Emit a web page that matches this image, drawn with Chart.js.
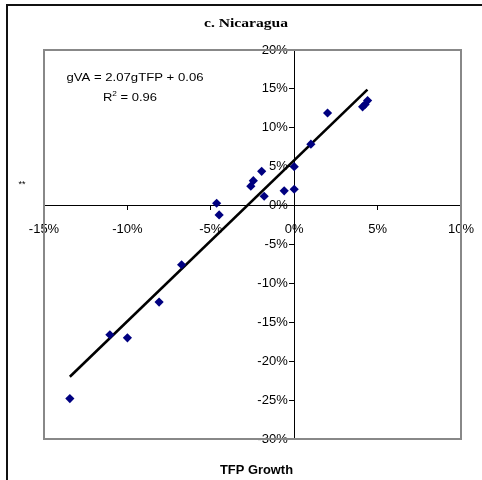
<!DOCTYPE html>
<html>
<head>
<meta charset="utf-8">
<script src="https://cdn.jsdelivr.net/npm/chart.js@4.4.1/dist/chart.umd.min.js"></script>
<style>
  html, body { margin: 0; padding: 0; background: #fff; }
  #wrap { width: 482px; height: 480px; }
</style>
</head>
<body>
<div id="wrap"><canvas id="chart" width="482" height="480"></canvas></div>
<script>
// ─── Data (percent) ──────────────────────────────────────────────────────────
const tfpGrowth = [-13.45, -11.05, -10.0, -8.1, -6.75, -4.65, -4.5, -2.6, -2.45, -1.95, -1.8, -0.6, 0.0, 0.0, 1.0, 2.0, 4.1, 4.25, 4.4];
const vaGrowth  = [-24.8, -16.6, -17.0, -12.4, -7.6, 0.3, -1.2, 2.5, 3.2, 4.4, 1.2, 1.9, 2.1, 5.0, 7.9, 11.9, 12.7, 13.0, 13.5];
const trendX    = [-13.45, 4.39];
const trendY    = [-22.0, 14.9];
const xTicks    = [-15, -10, -5, 0, 5, 10];
const yTicks    = [-30, -25, -20, -15, -10, -5, 0, 5, 10, 15, 20];

const points = tfpGrowth.map((x, i) => ({ x, y: vaGrowth[i] }));
const trend  = trendX.map((x, i) => ({ x, y: trendY[i] }));

const SANS  = 'Arial, "Liberation Sans", sans-serif';
const SERIF = '"Times New Roman", "Liberation Serif", serif';

// draw text squeezed/stretched to a given width (Excel-ish rendering)
function fitText(ctx, text, x, base, width, font) {
  ctx.font = font;
  const w = ctx.measureText(text).width;
  ctx.save();
  ctx.translate(x, base);
  ctx.scale(width / w, 1);
  ctx.textAlign = 'left'; ctx.textBaseline = 'alphabetic';
  ctx.fillText(text, 0, 0);
  ctx.restore();
}

// ─── Frame, title and annotations ────────────────────────────────────────────
const decor = {
  id: 'decor',
  beforeDatasetsDraw(chart) {
    const { ctx, chartArea: a } = chart;
    ctx.save();
    ctx.strokeStyle = '#888';
    ctx.lineWidth = 2;
    ctx.strokeRect(a.left, a.top, a.right - a.left, a.bottom - a.top);
    ctx.restore();
  },
  afterDraw(chart) {
    const { ctx } = chart;
    ctx.save();
    // outer frame (top + left)
    ctx.strokeStyle = '#111';
    ctx.lineWidth = 2;
    ctx.beginPath();
    ctx.moveTo(482, 5); ctx.lineTo(7, 5); ctx.lineTo(7, 480);
    ctx.stroke();

    ctx.fillStyle = '#000';
    fitText(ctx, 'c. Nicaragua', 204, 26.5, 84, 'bold 12px ' + SERIF);
    fitText(ctx, 'gVA = 2.07gTFP + 0.06', 66.5, 81, 137, '11px ' + SANS);

    // R² = 0.96
    ctx.save();
    ctx.translate(103, 101);
    ctx.scale(1.18, 1);
    ctx.textAlign = 'left'; ctx.textBaseline = 'alphabetic';
    ctx.font = '11px ' + SANS;
    ctx.fillText('R', 0, 0);
    let w = ctx.measureText('R').width;
    ctx.font = '7px ' + SANS;
    ctx.fillText('2', w, -5);
    w += ctx.measureText('2').width;
    ctx.font = '11px ' + SANS;
    ctx.fillText(' = 0.96', w, 0);
    ctx.restore();

    fitText(ctx, 'TFP Growth', 220, 474, 73, 'bold 12px ' + SANS);
    ctx.font = '9px ' + SANS;
    ctx.fillText('**', 18.5, 187);
    ctx.restore();
  }
};

const tickFont = { family: SANS, size: 13 };

new Chart(document.getElementById('chart'), {
  type: 'scatter',
  data: {
    datasets: [
      { label: 'trend', data: trend, type: 'line', showLine: true,
        borderColor: '#000', borderWidth: 2.6, pointRadius: 0, fill: false, order: 2 },
      { label: 'gVA', data: points,
        pointStyle: 'rectRot', pointRadius: 4.6, borderWidth: 0,
        backgroundColor: '#000080', borderColor: '#000080', order: 1 },
    ]
  },
  options: {
    responsive: false, animation: false,
    layout: { padding: { left: 44, right: 21, top: 50, bottom: 41 } },
    plugins: { legend: { display: false }, tooltip: { enabled: false }, title: { display: false } },
    scales: {
      x: {
        type: 'linear', min: -15, max: 10, position: { y: 0 },
        afterBuildTicks: s => { s.ticks = xTicks.map(v => ({ value: v })); },
        // keep the big label gap from eating into the plot width
        afterFit: s => { s.paddingLeft = 13; s.paddingRight = 13; },
        ticks: { color: '#000', font: tickFont, padding: 12, autoSkip: false, maxRotation: 0,
                 callback: v => v + '%' },
        grid: { drawOnChartArea: false, drawTicks: true, tickLength: 4, color: '#000' },
        border: { color: '#000', width: 1 }
      },
      y: {
        type: 'linear', min: -30, max: 20, position: { x: 0 },
        afterBuildTicks: s => { s.ticks = yTicks.map(v => ({ value: v })); },
        // centred y labels are right-aligned on the axis line; en space gives the gap
        ticks: { color: '#000', font: tickFont, padding: 0, autoSkip: false,
                 callback: v => v + '%\u2002' },
        grid: { drawOnChartArea: false, drawTicks: true, tickLength: 5, color: '#000' },
        border: { color: '#000', width: 1 }
      }
    }
  },
  plugins: [decor]
});
</script>
</body>
</html>
